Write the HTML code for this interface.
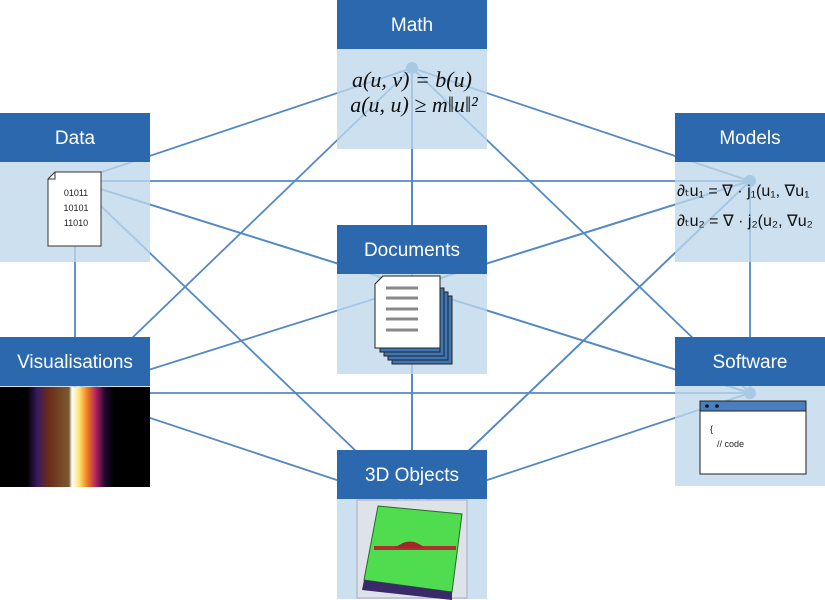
<!DOCTYPE html>
<html><head><meta charset="utf-8"><style>
html,body{margin:0;padding:0;background:#fff;width:825px;height:600px;overflow:hidden;font-family:"Liberation Sans",sans-serif}
svg{display:block}
</style></head><body>
<svg width="825" height="600" viewBox="0 0 825 600">
<g id="edges" stroke="#5389c5" stroke-width="1.8" fill="none"></g>
<g id="nodes"></g>
</svg>
<script>
const nodeNames=["Math","Data","Models","Documents","Visualisations","Software","3D Objects"];
const nodeX=[337,0,675,337,0,675,337];
const nodeY=[0,113,113,225,337,337,450];
const hubX=[412,75,750,412,75,750,412];
const hubY=[68,181,181,287,393,393,505];
const edgeFrom=[0,0,0,0,0,1,1,1,1,2,2,2,3,3,3,3,4,4,5,6,0,1];
const edgeTo  =[1,2,3,4,5,2,3,4,6,3,5,6,4,5,6,2,5,6,6,2,6,5];
const NS="http://www.w3.org/2000/svg";
const eg=document.getElementById('edges'),ng=document.getElementById('nodes');
function mk(t,a,p){const e=document.createElementNS(NS,t);for(const k in a)e.setAttribute(k,a[k]);p.appendChild(e);return e;}
for(let i=0;i<edgeFrom.length;i++){
 if(edgeFrom[i]===edgeTo[i])continue;
 const l=mk('line',{x1:hubX[edgeFrom[i]],y1:hubY[edgeFrom[i]],x2:hubX[edgeTo[i]],y2:hubY[edgeTo[i]]},eg);
 
 
}
for(let i=0;i<nodeNames.length;i++){
 const g=mk('g',{},ng);
 
 
 const b=mk('rect',{x:nodeX[i],y:nodeY[i]+48,width:150,height:101,fill:'rgba(190,215,235,0.78)'},g);
 
 
 const h=mk('rect',{x:nodeX[i],y:nodeY[i],width:150,height:49,fill:'#2b68ad'},g);
 
 
 const t=mk('text',{x:nodeX[i]+75,y:nodeY[i]+31,'text-anchor':'middle','font-size':'19',fill:'#fff','font-family':'Liberation Sans, sans-serif'},g);
 t.textContent=nodeNames[i];
 
 
 const d=mk('circle',{cx:hubX[i],cy:hubY[i],r:6,fill:'#a9c8e4'},g);
 
 
}
</script>
<svg width="825" height="600" style="position:absolute;left:0;top:0">
<defs>
<linearGradient id="spec" x1="0" x2="1">
<stop offset="0" stop-color="#000"/><stop offset="0.18" stop-color="#000"/><stop offset="0.25" stop-color="#3a1a60"/>
<stop offset="0.32" stop-color="#6a2a18"/><stop offset="0.46" stop-color="#7a5a30"/><stop offset="0.48" stop-color="#fff"/>
<stop offset="0.53" stop-color="#ffe070"/><stop offset="0.58" stop-color="#f08020"/><stop offset="0.64" stop-color="#b02060"/>
<stop offset="0.7" stop-color="#200830"/><stop offset="0.76" stop-color="#000"/><stop offset="1" stop-color="#000"/>
</linearGradient>
</defs>
<g font-family="Liberation Serif, serif" font-style="italic" font-size="22" fill="#111" text-anchor="middle">
<text x="412" y="87">a(u, v) = b(u)</text>
<text x="414" y="112">a(u, u) ≥ m‖u‖²</text>
</g>
<g>
<path d="M55 172 H101 V246 H48 V179 Z" fill="#fff" stroke="#333" stroke-width="1"/>
<path d="M48 179 H55 V172" fill="none" stroke="#333"/>
<g font-family="Liberation Sans, sans-serif" font-size="9" fill="#222" text-anchor="middle">
<text x="76" y="196">01011</text><text x="76" y="211">10101</text><text x="76" y="226">11010</text></g>
</g>
<g font-family="Liberation Sans, sans-serif" font-size="16" fill="#111">
<text x="677" y="196">∂ₜu₁ = ∇ · j₁(u₁, ∇u₁</text>
<text x="677" y="226">∂ₜu₂ = ∇ · j₂(u₂, ∇u₂</text>
</g>
<g stroke="#222" stroke-width="1">
<rect x="392" y="296" width="60" height="68" fill="#3f76b5"/>
<rect x="388" y="292" width="60" height="68" fill="#3f76b5"/>
<rect x="384" y="288" width="60" height="68" fill="#3f76b5"/>
<rect x="380" y="284" width="60" height="68" fill="#3f76b5"/>
<path d="M383 276 H440 V348 H375 V284 Z" fill="#fff"/>
<g stroke="#888" stroke-width="3"><line x1="386" y1="288" x2="418" y2="288"/><line x1="386" y1="298" x2="418" y2="298"/><line x1="386" y1="309" x2="418" y2="309"/><line x1="386" y1="319" x2="418" y2="319"/><line x1="386" y1="330" x2="418" y2="330"/></g>
</g>
<rect x="0" y="387" width="150" height="100" fill="url(#spec)"/>
<g>
<rect x="700" y="401" width="106" height="73" fill="#fff" stroke="#222"/>
<rect x="700" y="401" width="106" height="10" fill="#4a7fbf" stroke="#222"/>
<circle cx="707" cy="406" r="1.8" fill="#111"/><circle cx="717" cy="406" r="1.8" fill="#111"/>
<text x="710" y="432" font-size="9" fill="#222">{</text>
<text x="717" y="447" font-size="9" fill="#222">// code</text>
</g>
<g>
<rect x="357" y="500" width="110" height="98" fill="#dde3e8" stroke="#aab"/>
<polygon points="378,506 462,514 452,592 364,580" fill="#4fdc4f" stroke="#2a6a2a"/>
<polygon points="364,580 452,592 452,600 362,590" fill="#3a2a6a"/>
<rect x="374" y="546" width="82" height="4" fill="#b03030"/>
<path d="M395 548 Q410 535 425 548 Z" fill="#a02828"/>
</g>
</svg>
</body></html>
